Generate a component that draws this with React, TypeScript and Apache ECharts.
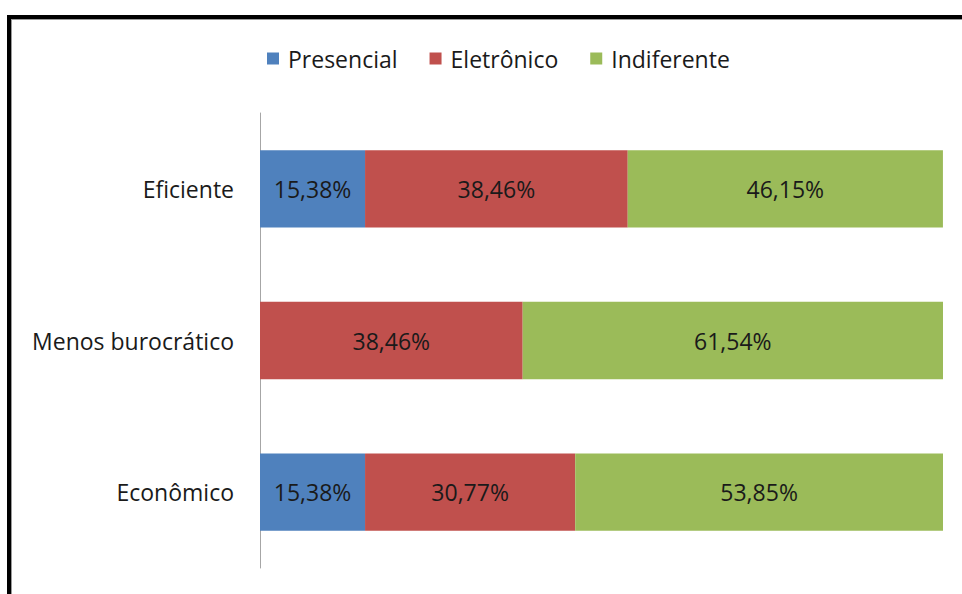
import React, { useEffect, useRef } from "react";
import * as echarts from "echarts";

const categories = ["Econômico", "Menos burocrático", "Eficiente"];
const seriesNames = ["Presencial", "Eletrônico", "Indiferente"];
const presencial: (number | null)[] = [15.38, null, 15.38];
const eletronico: (number | null)[] = [30.77, 38.46, 38.46];
const indiferente: (number | null)[] = [53.85, 61.54, 46.15];
const colors = ["#4F81BD", "#C0504D", "#9BBB59"];

const FONT = "Open Sans";
const FS = 23;

export default function App() {
  const ref = useRef<HTMLDivElement>(null);
  useEffect(() => {
    if (!ref.current) return;
    const chart = echarts.init(ref.current, null, { renderer: "svg" });
    const fmt = (p: any) =>
      p.value == null || p.value === 0 ? "" : Number(p.value).toFixed(2).replace(".", ",") + "%";
    const mk = (name: string, data: (number | null)[], color: string) => ({
      name,
      type: "bar",
      stack: "total",
      data,
      barWidth: "51%",
      itemStyle: { color },
      label: {
        show: true,
        position: "inside",
        formatter: fmt,
        color: "#1a1a1a",
        fontSize: FS,
        fontFamily: FONT,
      },
    });
    chart.setOption({
      animation: false,
      backgroundColor: "#ffffff",
      textStyle: { fontFamily: FONT },
      legend: {
        data: seriesNames,
        left: 262,
        top: 42,
        itemWidth: 12,
        itemHeight: 12,
        itemGap: 32,
        icon: "rect",
        textStyle: { fontSize: FS, color: "#1a1a1a", fontFamily: FONT, padding: [0, 0, 0, 4] },
      },
      grid: { left: 260, right: 19, top: 113, bottom: 26, containLabel: false },
      xAxis: {
        type: "value",
        min: 0,
        max: 100,
        show: false,
      },
      yAxis: {
        type: "category",
        data: categories,
        axisLine: { show: true, lineStyle: { color: "#a6a6a6", width: 1 } },
        axisTick: { show: false },
        axisLabel: { fontSize: FS, color: "#1a1a1a", fontFamily: FONT, margin: 26 },
        splitLine: { show: false },
      },
      series: [
        mk(seriesNames[0], presencial, colors[0]),
        mk(seriesNames[1], eletronico, colors[1]),
        mk(seriesNames[2], indiferente, colors[2]),
      ],
      graphic: [
        { type: "rect", shape: { x: 7, y: 15, width: 955, height: 4 }, style: { fill: "#000" } },
        { type: "rect", shape: { x: 7, y: 15, width: 4, height: 579 }, style: { fill: "#000" } },
        { type: "rect", shape: { x: 11, y: 19, width: 951, height: 1 }, style: { fill: "#9a9a9a" } },
        { type: "rect", shape: { x: 11, y: 19, width: 1, height: 575 }, style: { fill: "#9a9a9a" } },
      ],
    });
    return () => chart.dispose();
  }, []);
  return (
    <div
      ref={ref}
      style={{ position: "fixed", left: 0, top: 0, width: 962, height: 594 }}
    />
  );
}
